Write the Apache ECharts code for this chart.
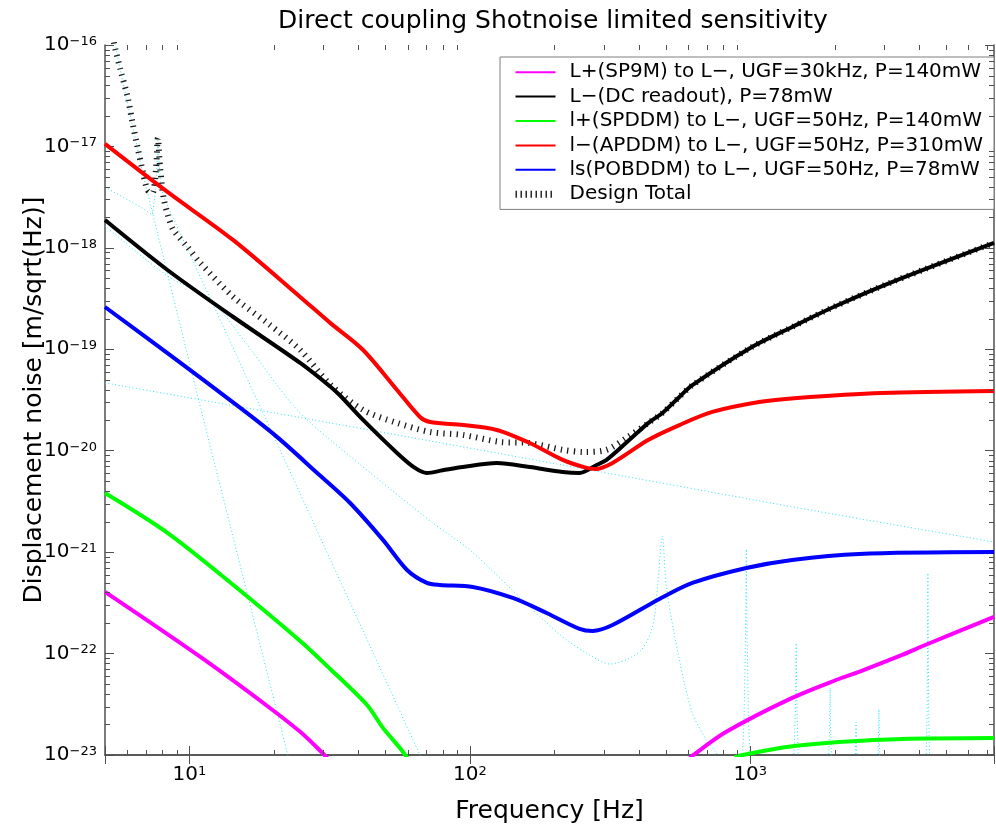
<!DOCTYPE html>
<html>
<head>
<meta charset="utf-8">
<title>Direct coupling Shotnoise limited sensitivity</title>
<script src="https://cdn.jsdelivr.net/npm/echarts@6/dist/echarts.min.js"></script>
<style>
  html, body { margin: 0; padding: 0; background: #fff; }
  #chart { width: 996px; height: 831px; }
</style>
</head>
<body>
<div id="chart"></div>
<script>
const FONT = 'DejaVu Sans';
const AXIS_COLOR = '#505050';

// [frequency Hz, displacement m/rtHz]
const lplusSp9mLow = [[5, 4.05e-22], [10.94, 9.25e-23], [18.95, 3.04e-23], [24.83, 1.69e-23], [29.27, 1.1e-23],
  [31.76, 8.7e-24]];
const lplusSp9mHigh = [[590, 8.5e-24], [628, 1.0e-23], [821, 1.69e-23], [1411, 3.65e-23], [2070, 5.61e-23],
  [2443, 6.6e-23], [3480, 9.68e-23], [4229, 1.22e-22], [7400, 2.3e-22]];
const lminusDc = [[5, 1.88e-18], [8.35, 6.05e-19], [14.34, 2.08e-19], [24.83, 7.33e-20], [31.76, 4.3e-20],
  [34.46, 3.5e-20], [41.62, 2.01e-20], [55, 9.5e-21], [63.7, 6.76e-21], [70.3, 6.03e-21], [80, 6.4e-21],
  [94.4, 6.9e-21], [124.8, 7.57e-21], [163.5, 6.9e-21], [214.3, 6.17e-21], [246.3, 6.03e-21], [283.1, 7.23e-21],
  [307.3, 8.11e-21], [371, 1.28e-20], [433.6, 1.88e-20], [486, 2.35e-20], [558.8, 3.39e-20], [620, 4.4e-20],
  [1000, 1.03e-19], [1411, 1.66e-19], [2000, 2.64e-19], [3201, 4.6e-19], [7400, 1.12e-18]];
const lplusSpddmLow = [[5, 3.83e-21], [8.35, 1.55e-21], [14.34, 4.74e-22], [24.83, 1.33e-22], [31.76, 7.05e-23],
  [43, 3.11e-23], [49, 1.85e-23], [57.8, 1.07e-23], [63.7, 7.1e-24]];
const lplusSpddmHigh = [[880, 9.5e-24], [940, 1.0e-23], [1164, 1.12e-23], [1458, 1.23e-23], [2070, 1.34e-23],
  [3480, 1.44e-23], [7400, 1.47e-23]];
const lminusApddm = [[5, 1.06e-17], [8.35, 3.56e-18], [14.34, 1.19e-18], [24.83, 3.28e-19], [31.76, 1.82e-19],
  [41.62, 9.84e-20], [55, 3.97e-20], [66.4, 2.15e-20], [72.1, 1.92e-20], [94.4, 1.79e-20], [124.8, 1.6e-20],
  [163.5, 1.19e-20], [214.3, 8.11e-21], [260.9, 6.76e-21], [280, 6.6e-21], [322.8, 7.57e-21], [433.6, 1.28e-20],
  [558.8, 1.79e-20], [732, 2.41e-20], [1076, 3.02e-20], [1470, 3.31e-20], [2950, 3.71e-20], [7400, 3.88e-20]];
const lsPobddm = [[5, 2.61e-19], [8.35, 9.18e-20], [15.19, 2.64e-20], [20.57, 1.36e-20], [28.55, 6.03e-21],
  [37.41, 3.05e-21], [49, 1.32e-21], [59.7, 6.67e-22], [70.3, 4.97e-22], [78.2, 4.74e-22], [102.5, 4.53e-22],
  [142.2, 3.53e-22], [187.9, 2.51e-22], [246.3, 1.75e-22], [274, 1.67e-22], [322.8, 1.91e-22], [474.5, 3.45e-22],
  [621.7, 4.97e-22], [967.8, 6.98e-22], [1411, 8.38e-22], [2443, 9.59e-22], [7400, 1.0e-21]];
const designTotal = [[5.32, 1.23e-16], [5.454, 8.93e-17], [5.68, 5.68e-17], [6.02, 3.07e-17], [6.27, 1.7e-17],
  [6.53, 9.86e-18], [6.8, 5.86e-18], [7.09, 3.72e-18], [7.38, 3.48e-18], [7.6, 6e-18], [7.72, 1.21e-17],
  [7.85, 6.5e-18], [8.08, 3.17e-18], [8.42, 2.01e-18], [8.77, 1.5e-18], [9.84, 1.02e-18], [10.94, 7.1e-19],
  [14.34, 3.28e-19], [18.95, 1.82e-19], [24.83, 9.84e-20], [31.76, 4.5e-20], [41.62, 2.52e-20], [55, 1.88e-20],
  [72.1, 1.53e-20], [94.4, 1.43e-20], [127.9, 1.22e-20], [163.5, 1.19e-20], [214.3, 1.02e-20], [256.6, 9.7e-21],
  [307.3, 1.02e-20], [365, 1.36e-20], [433.6, 1.88e-20], [486, 2.35e-20], [558.8, 3.39e-20], [620, 4.4e-20],
  [1000, 1.03e-19], [1411, 1.66e-19], [2000, 2.64e-19], [3201, 4.6e-19], [7400, 1.12e-18]];

// noise budget components, thin cyan dotted
const seismicDirect = [[5.32, 1.4e-16], [5.68, 5.5e-17], [6.27, 1.6e-17], [6.8, 5.6e-18], [7.09, 3.5e-18],
  [10.94, 2.7e-20], [22.33, 1.05e-23], [23.2, 7e-24]];
const seismicPendulum = [[5, 3.98e-18], [6.69, 2.53e-18], [7.38, 2.11e-18], [7.6, 4e-18], [7.72, 1.15e-17],
  [7.85, 5e-18], [8.08, 3.17e-18], [17.9, 2.7e-20], [66.4, 1.0e-23], [70, 7e-24]];
const quantumDesign = [[5, 1.64e-18], [8.35, 5.28e-19], [11.88, 3.06e-19], [16.08, 1.1e-19], [23.7, 2.7e-20],
  [31.76, 1.28e-20], [73.8, 1.94e-21], [100, 1.05e-21], [163.5, 2.88e-22], [214.3, 1.46e-22], [267.3, 9.68e-23],
  [315, 7.89e-23], [402.7, 1.04e-22], [448.1, 1.83e-22], [466.8, 4.53e-22], [486.3, 1.44e-21], [502.3, 4.53e-22],
  [558.8, 8.65e-23], [621.7, 2.59e-23], [697.3, 1.41e-23], [756.8, 1.05e-23], [800, 8e-24]];
const suspThermal = [[5, 4.66e-20], [31.76, 1.88e-20], [295, 6.15e-21], [1033, 3.27e-21], [2609, 2.07e-21],
  [7400, 1.26e-21]];
const violinPeaks = [
  [[930, 5e-24], [950, 2.2e-23], [962, 1.5e-22], [968, 1.07e-21], [974, 1.5e-22], [986, 2.2e-23], [1006, 5e-24]],
  [[1420, 5e-24], [1450, 3e-23], [1458, 1.27e-22], [1466, 3e-23], [1496, 5e-24]],
  [[1890, 5e-24], [1918, 1.8e-23], [1926, 4.58e-23], [1934, 1.8e-23], [1962, 5e-24]],
  [[2350, 5e-24], [2376, 1.3e-23], [2384, 2.11e-23], [2392, 1.3e-23], [2420, 5e-24]],
  [[2840, 5e-24], [2866, 1.4e-23], [2877, 2.84e-23], [2888, 1.4e-23], [2914, 5e-24]],
  [[4220, 5e-24], [4270, 2.5e-23], [4290, 1.5e-22], [4300, 6.22e-22], [4310, 1.5e-22], [4330, 2.5e-23], [4380, 5e-24]]
];

// axis ranges and ticks
const xRange = [5, 7400];
const yRange = [9.99e-24, 1e-16];
const xMinorTicks = [6, 7, 8, 9, 20, 30, 40, 50, 60, 70, 80, 90, 200, 300, 400, 500, 600, 700, 800, 900,
  2000, 3000, 4000, 5000, 6000, 7000];
const yMinorMantissa = [2, 3, 4, 5, 6, 7, 8, 9];
const yDecades = [-23, -22, -21, -20, -19, -18, -17];

const names = [
  'L+(SP9M) to L\u2212, UGF=30kHz, P=140mW',
  'L\u2212(DC readout), P=78mW',
  'l+(SPDDM) to L\u2212, UGF=50Hz, P=140mW',
  'l\u2212(APDDM) to L\u2212, UGF=50Hz, P=310mW',
  'ls(POBDDM) to L\u2212, UGF=50Hz, P=78mW',
  'Design Total'
];

const yMinorTicks = [];
yDecades.forEach(d => yMinorMantissa.forEach(m => yMinorTicks.push(m * Math.pow(10, d))));

const chart = echarts.init(document.getElementById('chart'));

const decadeLabel = value => {
  const p = Math.log10(value);
  const r = Math.round(p);
  if (Math.abs(p - r) > 1e-6) return '';
  return '{b|10}{e|' + String(r).replace('-', '\u2212') + '}';
};

const labelRich = {
  b: {fontFamily: FONT, fontSize: 20, color: '#000', lineHeight: 20, padding: [8, 0, 0, 0], verticalAlign: 'bottom'},
  e: {fontFamily: FONT, fontSize: 13, color: '#000', lineHeight: 14, verticalAlign: 'top'}
};

const mainLine = (name, data, color) => ({
  name: name,
  type: 'line',
  data: data,
  symbol: 'none',
  smooth: 0.3,
  silent: true,
  lineStyle: {color: color, width: 4},
  itemStyle: {color: color}
});

const cyanLine = (data, smooth) => ({
  type: 'line',
  data: data,
  symbol: 'none',
  smooth: smooth,
  silent: true,
  lineStyle: {color: '#2ee3f2', width: 1, type: [1, 2.5]},
  itemStyle: {color: '#2ee3f2'}
});

const tickStyle = {stroke: AXIS_COLOR, lineWidth: 1};

const xMinorSeries = {
  type: 'custom',
  silent: true,
  z: 10,
  data: xMinorTicks.map(f => [f, 1e-20]),
  renderItem: (params, api) => {
    const x = Math.round(api.coord([api.value(0), 1e-20])[0]) + 0.5;
    const cs = params.coordSys;
    return {
      type: 'group',
      children: [
        {type: 'line', shape: {x1: x, y1: cs.y + cs.height, x2: x, y2: cs.y + cs.height - 5}, style: tickStyle},
        {type: 'line', shape: {x1: x, y1: cs.y, x2: x, y2: cs.y + 5}, style: tickStyle}
      ]
    };
  }
};

const yMinorSeries = {
  type: 'custom',
  silent: true,
  z: 10,
  data: yMinorTicks.map(v => [100, v]),
  renderItem: (params, api) => {
    const y = Math.round(api.coord([100, api.value(1)])[1]) + 0.5;
    const cs = params.coordSys;
    return {
      type: 'group',
      children: [
        {type: 'line', shape: {x1: cs.x, y1: y, x2: cs.x + 5, y2: y}, style: tickStyle},
        {type: 'line', shape: {x1: cs.x + cs.width, y1: y, x2: cs.x + cs.width - 5, y2: y}, style: tickStyle}
      ]
    };
  }
};

const frameAxis = {
  axisLine: {show: true, lineStyle: {color: AXIS_COLOR, width: 1.5}},
  axisTick: {show: true, inside: true, length: 9, lineStyle: {color: AXIS_COLOR, width: 1}},
  minorTick: {show: false},
  splitLine: {show: false}
};

const legendData = names.map((n, i) => i === 5
  ? {name: n, lineStyle: {width: 7, type: [1.4, 3.6], color: '#1a1a1a'}}
  : {name: n});

const option = {
  animation: false,
  backgroundColor: '#fff',
  title: {
    text: 'Direct coupling Shotnoise limited sensitivity',
    left: 273,
    top: 4,
    textStyle: {fontFamily: FONT, fontSize: 25, fontWeight: 'normal', color: '#000'}
  },
  grid: {left: 105, right: 2, top: 45, bottom: 76, outerBoundsMode: 'none'},
  legend: {
    data: legendData,
    orient: 'vertical',
    right: 2,
    top: 57,
    padding: [3, 11, 3, 12],
    itemGap: 0,
    itemWidth: 40,
    itemHeight: 14,
    backgroundColor: '#fff',
    borderColor: '#7f7f7f',
    borderWidth: 1,
    borderRadius: 0,
    selectedMode: false,
    itemStyle: {opacity: 0},
    textStyle: {fontFamily: FONT, fontSize: 20, color: '#000', lineHeight: 24.4, padding: [0, 0, 0, 9]}
  },
  xAxis: [
    Object.assign({
      type: 'log', logBase: 10, min: xRange[0], max: xRange[1], position: 'bottom',
      name: 'Frequency [Hz]', nameLocation: 'middle', nameGap: 44, nameMoveOverlap: false,
      nameTextStyle: {fontFamily: FONT, fontSize: 25, color: '#000'},
      axisLabel: {margin: 10, formatter: decadeLabel, rich: labelRich}
    }, frameAxis),
    Object.assign({
      type: 'log', logBase: 10, min: xRange[0], max: xRange[1], position: 'top',
      axisLabel: {show: false}
    }, frameAxis)
  ],
  yAxis: [
    Object.assign({
      type: 'log', logBase: 10, min: yRange[0], max: yRange[1], position: 'left',
      name: 'Displacement noise [m/sqrt(Hz)]', nameLocation: 'middle', nameGap: 58, nameMoveOverlap: false,
      nameTextStyle: {fontFamily: FONT, fontSize: 25, color: '#000'},
      axisLabel: {margin: 8, formatter: decadeLabel, rich: labelRich, showMinLabel: true, showMaxLabel: true,
        hideOverlap: false}
    }, frameAxis),
    Object.assign({
      type: 'log', logBase: 10, min: yRange[0], max: yRange[1], position: 'right',
      axisLabel: {show: false}
    }, frameAxis)
  ],
  series: [
    cyanLine(suspThermal, 0.3),
    cyanLine(seismicDirect, 0),
    cyanLine(seismicPendulum, 0),
    cyanLine(quantumDesign, 0.3)
  ].concat(violinPeaks.map(p => cyanLine(p, 0))).concat([
    {
      name: names[5],
      type: 'line',
      data: designTotal,
      symbol: 'none',
      smooth: 0.3,
      silent: true,
      lineStyle: {color: '#1a1a1a', width: 6, type: [1.3, 5.3]},
      itemStyle: {color: '#1a1a1a'}
    },
    mainLine(names[0], lplusSp9mLow, '#ff00ff'),
    mainLine(names[0], lplusSp9mHigh, '#ff00ff'),
    mainLine(names[1], lminusDc, '#000000'),
    mainLine(names[2], lplusSpddmLow, '#00ff00'),
    mainLine(names[2], lplusSpddmHigh, '#00ff00'),
    mainLine(names[3], lminusApddm, '#ff0000'),
    mainLine(names[4], lsPobddm, '#0000ff'),
    xMinorSeries,
    yMinorSeries
  ])
};

chart.setOption(option);
</script>
</body>
</html>
